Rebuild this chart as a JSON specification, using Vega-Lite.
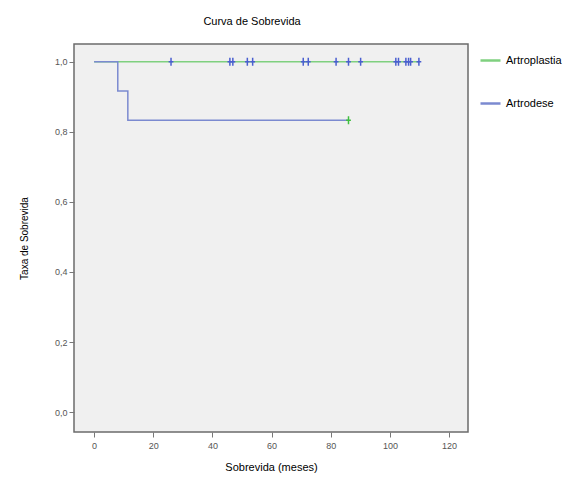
{
  "$schema": "https://vega.github.io/schema/vega-lite/v6.json",
  "width": 394,
  "height": 388,
  "autosize": {"type": "none"},
  "padding": {"left": 74, "top": 44, "right": 105, "bottom": 45},
  "background": "white",
  "config": {
    "font": "Liberation Sans",
    "view": {"fill": "#f0f0f0", "stroke": "#6b6b6b", "strokeWidth": 1.5},
    "axis": {"grid": false, "domain": false, "tickColor": "#777", "tickSize": 5, "labelColor": "#555", "labelFontSize": 9, "titleFontWeight": "normal", "titleColor": "#000", "titleFontSize": 11}
  },
  "title": {"text": "Curva de Sobrevida", "fontSize": 11, "fontWeight": "normal", "color": "#000", "offset": 17, "dx": -19},
  "datasets": {
    "curves": [
      {"grupo": "Artroplastia", "tempo": 0, "sobrevida": 1.0},
      {"grupo": "Artroplastia", "tempo": 110, "sobrevida": 1.0},
      {"grupo": "Artrodese", "tempo": 0, "sobrevida": 1.0},
      {"grupo": "Artrodese", "tempo": 8, "sobrevida": 0.917},
      {"grupo": "Artrodese", "tempo": 11.4, "sobrevida": 0.833},
      {"grupo": "Artrodese", "tempo": 86, "sobrevida": 0.833}
    ],
    "censor": [
      {"grupo": "Artroplastia", "tempo": 26, "sobrevida": 1.0},
      {"grupo": "Artroplastia", "tempo": 45.9, "sobrevida": 1.0},
      {"grupo": "Artroplastia", "tempo": 46.9, "sobrevida": 1.0},
      {"grupo": "Artroplastia", "tempo": 51.8, "sobrevida": 1.0},
      {"grupo": "Artroplastia", "tempo": 53.6, "sobrevida": 1.0},
      {"grupo": "Artroplastia", "tempo": 70.7, "sobrevida": 1.0},
      {"grupo": "Artroplastia", "tempo": 72.4, "sobrevida": 1.0},
      {"grupo": "Artroplastia", "tempo": 81.8, "sobrevida": 1.0},
      {"grupo": "Artroplastia", "tempo": 86, "sobrevida": 1.0},
      {"grupo": "Artroplastia", "tempo": 90.1, "sobrevida": 1.0},
      {"grupo": "Artroplastia", "tempo": 102, "sobrevida": 1.0},
      {"grupo": "Artroplastia", "tempo": 102.9, "sobrevida": 1.0},
      {"grupo": "Artroplastia", "tempo": 105.4, "sobrevida": 1.0},
      {"grupo": "Artroplastia", "tempo": 106.3, "sobrevida": 1.0},
      {"grupo": "Artroplastia", "tempo": 107, "sobrevida": 1.0},
      {"grupo": "Artroplastia", "tempo": 109.8, "sobrevida": 1.0},
      {"grupo": "Artrodese", "tempo": 86, "sobrevida": 0.833}
    ]
  },
  "layer": [
    {
      "data": {"name": "curves"},
      "mark": {"type": "line", "interpolate": "step-after", "strokeWidth": 1.5},
      "encoding": {
        "x": {"field": "tempo", "type": "quantitative", "scale": {"domain": [-6.8, 126.4], "nice": false, "zero": false}, "axis": {"values": [0, 20, 40, 60, 80, 100, 120], "title": "Sobrevida (meses)", "titlePadding": 11, "labelPadding": 4}},
        "y": {"field": "sobrevida", "type": "quantitative", "scale": {"domain": [-0.057, 1.051], "nice": false, "zero": false}, "axis": {"values": [0, 0.2, 0.4, 0.6, 0.8, 1.0], "labelExpr": "replace(format(datum.value, '.1f'), '.', ',')", "title": "Taxa de Sobrevida", "titlePadding": 25, "titleFontSize": 10, "labelPadding": 2}},
        "color": {"field": "grupo", "type": "nominal", "scale": {"domain": ["Artroplastia", "Artrodese"], "range": ["#7fd07f", "#7b8ad0"]}, "legend": {"orient": "none", "legendX": 405, "legendY": 5, "title": null, "symbolType": "stroke", "symbolSize": 400, "symbolStrokeWidth": 2.5, "labelFontSize": 11, "labelColor": "#000", "rowPadding": 26, "values": ["Artroplastia", "Artrodese"]}}
      }
    },
    {
      "data": {"name": "censor"},
      "mark": {"type": "point", "shape": "M0,-1L0,1M-0.6,0L0.6,0", "filled": false, "size": 64, "strokeWidth": 1.5, "opacity": 1},
      "encoding": {
        "x": {"field": "tempo", "type": "quantitative"},
        "y": {"field": "sobrevida", "type": "quantitative"},
        "stroke": {"field": "grupo", "type": "nominal", "scale": {"domain": ["Artroplastia", "Artrodese"], "range": ["#4a5fd0", "#3fbf3f"]}, "legend": null}
      }
    }
  ],
  "resolve": {"scale": {"stroke": "independent"}}
}
